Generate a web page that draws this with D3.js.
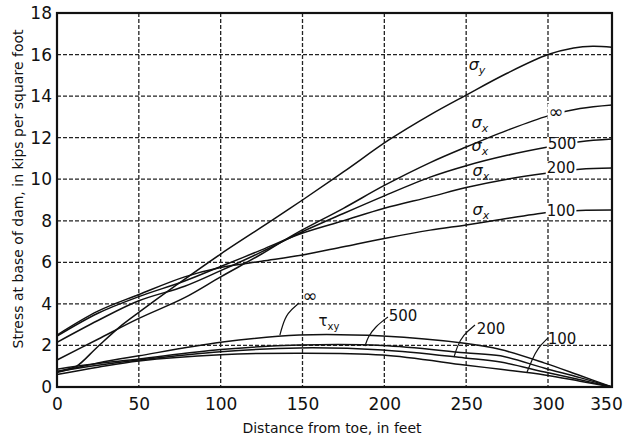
<!DOCTYPE html>
<html>
<head>
<meta charset="utf-8">
<script src="https://cdn.jsdelivr.net/npm/d3@7"></script>
<style>
  body { margin: 0; background: #fff; }
  svg text { font-family: 'DejaVu Sans', sans-serif; fill: #111; }
  .grid line { stroke: #222; stroke-width: 1.3; stroke-dasharray: 4,2; }
  .curve { fill: none; stroke: #111; stroke-width: 1.5; }
  .leader { fill: none; stroke: #111; stroke-width: 1.2; }
</style>
</head>
<body>
<div id="draw"></div>
<script>
// stress curves, [distance from toe (ft), stress (kips/sq ft)]
const sigmaY = [[0, 0.75], [6, 0.85], [12, 1.0], [25, 1.95], [40, 3.0], [51, 3.65], [72, 4.85], [100, 6.4], [132, 8.05], [150, 9.0], [175, 10.35], [203, 11.9], [228, 13.1], [250, 14.05], [275, 15.1], [300, 16.0], [320, 16.32], [335, 16.4], [350, 16.35]]
const sigmaXInf = [[0, 1.3], [25, 2.3], [50, 3.3], [78, 4.3], [100, 5.3], [125, 6.4], [145, 7.35], [175, 8.6], [200, 9.7], [228, 10.8], [250, 11.55], [275, 12.35], [300, 13.05], [325, 13.4], [350, 13.57]]
const sigmaX500 = [[0, 2.15], [25, 3.2], [50, 4.15], [78, 4.85], [100, 5.6], [125, 6.5], [148, 7.4], [175, 8.35], [200, 9.2], [228, 10.1], [250, 10.65], [275, 11.15], [300, 11.55], [325, 11.8], [350, 11.93]]
const sigmaX200 = [[0, 2.45], [25, 3.55], [50, 4.35], [78, 5.1], [100, 5.8], [125, 6.6], [148, 7.35], [175, 8.0], [200, 8.6], [228, 9.15], [250, 9.6], [275, 10.0], [300, 10.3], [325, 10.48], [350, 10.54]]
const sigmaX100 = [[0, 2.5], [25, 3.65], [50, 4.45], [78, 5.3], [100, 5.75], [125, 6.05], [150, 6.35], [175, 6.75], [200, 7.15], [228, 7.55], [250, 7.8], [270, 8.05], [300, 8.4], [325, 8.5], [350, 8.52]]
const tauInf = [[0, 0.7], [25, 1.15], [50, 1.5], [100, 2.15], [148, 2.5], [199, 2.45], [249, 2.1], [271, 1.8], [298, 1.15], [325, 0.55], [350, 0]]
const tau500 = [[0, 0.85], [12, 1.0], [50, 1.35], [100, 1.8], [148, 2.02], [199, 2.0], [249, 1.65], [271, 1.5], [298, 0.9], [325, 0.45], [350, 0]]
const tau200 = [[0, 0.75], [25, 1.05], [50, 1.3], [100, 1.7], [148, 1.88], [199, 1.78], [249, 1.4], [271, 1.2], [298, 0.72], [325, 0.35], [350, 0]]
const tau100 = [[0, 0.6], [25, 0.95], [50, 1.25], [100, 1.55], [148, 1.63], [199, 1.54], [249, 1.06], [271, 0.85], [298, 0.58], [325, 0.28], [350, 0]]

const xTicks = [0, 50, 100, 150, 200, 250, 300, 350]
const yTicks = [0, 2, 4, 6, 8, 10, 12, 14, 16, 18]

// labels placed in data units: [x, y, main, sub]
const sigmaLabels = [[256.6, 15.45, 'σ', 'y'], [258.4, 12.66, 'σ', 'x'], [258.4, 11.55, 'σ', 'x'], [259, 10.35, 'σ', 'x'], [259, 8.47, 'σ', 'x']]
const endLabels = [[306.3, 13.19, '∞'], [311, 11.7, '500'], [310.2, 10.54, '200'], [310.2, 8.47, '100']]
const tauLabels = [[154.6, 4.33, '∞'], [211.4, 3.42, '500'], [265.2, 2.79, '200'], [311, 2.31, '100']]
const leaders = [
  [[147.9, 4.04], [140.5, 3.56], [137.5, 2.89], [136.2, 2.5]],
  [[202.2, 3.37], [194.3, 2.89], [190, 2.41], [188.2, 1.97]],
  [[255.4, 2.98], [248, 2.5], [244.4, 1.93], [242.6, 1.44]],
  [[300, 2.36], [293.7, 1.88], [290.2, 1.3], [287.2, 0.72]]
]

const width = 624
const height = 442

const svg = d3.select('#draw').append('svg')
  .attr('width', width)
  .attr('height', height)

// the printed scale is slightly squeezed in the last 50 ft
const x = d3.scaleLinear().domain([0, 300, 350]).range([57, 548, 612])
const y = d3.scaleLinear().domain([0, 18]).range([387, 13])

// grid
const grid = svg.append('g').attr('class', 'grid')
grid.selectAll('.gx')
  .data(xTicks.slice(1, -1))
  .enter().append('line')
  .attr('x1', d => x(d)).attr('x2', d => x(d))
  .attr('y1', y(18)).attr('y2', y(0))
grid.selectAll('.gy')
  .data(yTicks.slice(1, -1))
  .enter().append('line')
  .attr('x1', x(0)).attr('x2', x(350))
  .attr('y1', d => y(d)).attr('y2', d => y(d))

// curves
const line = d3.line()
  .x(d => x(d[0]))
  .y(d => y(d[1]))
  .curve(d3.curveCatmullRom.alpha(0.5))

const series = [sigmaY, sigmaXInf, sigmaX500, sigmaX200, sigmaX100, tauInf, tau500, tau200, tau100]
svg.selectAll('.curve')
  .data(series)
  .enter().append('path')
  .attr('class', 'curve')
  .attr('d', line)

// frame
svg.append('rect')
  .attr('x', x(0)).attr('y', y(18))
  .attr('width', x(350) - x(0)).attr('height', y(0) - y(18))
  .attr('fill', 'none').attr('stroke', '#111').attr('stroke-width', 2.2)

// axes (labels only, no tick marks)
const xAxis = d3.axisBottom(x).tickValues(xTicks).tickSize(0).tickPadding(11)
svg.append('g')
  .attr('transform', 'translate(0,' + y(0) + ')')
  .call(xAxis)
  .call(g => g.select('.domain').remove())
  .selectAll('text')
  .attr('font-size', 17)
  .attr('font-family', 'DejaVu Sans')
  .attr('dx', d => d === 350 ? -6 : 0)

const yAxis = d3.axisLeft(y).tickValues(yTicks).tickSize(0).tickPadding(5)
svg.append('g')
  .attr('transform', 'translate(' + x(0) + ',0)')
  .call(yAxis)
  .call(g => g.select('.domain').remove())
  .selectAll('text')
  .attr('font-size', 17)
  .attr('font-family', 'DejaVu Sans')

// axis titles
svg.append('text')
  .attr('x', 332)
  .attr('y', 433)
  .attr('text-anchor', 'middle')
  .attr('font-size', 14)
  .text('Distance from toe, in feet')

svg.append('text')
  .attr('transform', 'translate(23,189) rotate(-90)')
  .attr('text-anchor', 'middle')
  .attr('font-size', 14)
  .text('Stress at base of dam, in kips per square foot')

// sigma labels
sigmaLabels.forEach(function (d) {
  const t = svg.append('text')
    .attr('x', x(d[0]))
    .attr('y', y(d[1]) + 4)
    .attr('text-anchor', 'middle')
    .attr('font-size', 16)
    .attr('font-style', 'italic')
  t.append('tspan').text(d[2])
  t.append('tspan').attr('font-size', 11).attr('dy', 4).text(d[3])
})

// end labels break the curves
endLabels.forEach(function (d) {
  const g = svg.append('g')
  const t = g.append('text')
    .attr('x', x(d[0]))
    .attr('y', y(d[1]) + 5)
    .attr('text-anchor', 'middle')
    .attr('font-size', d[2] === '∞' ? 18 : 15)
    .text(d[2])
  const b = t.node().getBBox()
  g.insert('rect', 'text')
    .attr('x', b.x - 1).attr('y', b.y + 3)
    .attr('width', b.width + 2).attr('height', b.height - 6)
    .attr('fill', '#fff')
})

// tau label and its leaders
const tau = svg.append('text')
  .attr('x', x(166.2))
  .attr('y', y(3.08) + 3)
  .attr('text-anchor', 'middle')
  .attr('font-size', 15)
tau.append('tspan').text('τ')
tau.append('tspan').attr('font-size', 10).attr('dy', 4).text('xy')

tauLabels.forEach(function (d) {
  svg.append('text')
    .attr('x', x(d[0]))
    .attr('y', y(d[1]) + 5)
    .attr('text-anchor', 'middle')
    .attr('font-size', d[2] === '∞' ? 18 : 15)
    .text(d[2])
})

const leaderLine = d3.line()
  .x(d => x(d[0]))
  .y(d => y(d[1]))
  .curve(d3.curveBasis)

svg.selectAll('.leader')
  .data(leaders)
  .enter().append('path')
  .attr('class', 'leader')
  .attr('d', leaderLine)
</script>
</body>
</html>
